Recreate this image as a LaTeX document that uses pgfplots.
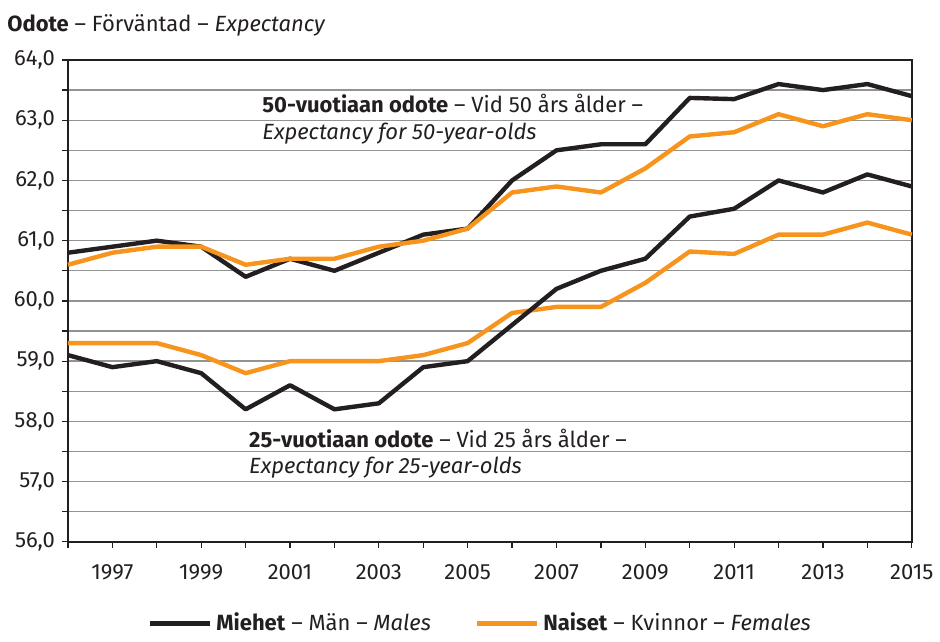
\documentclass[border=0pt]{standalone}
\usepackage{fontspec}
\setmainfont{Fira Sans}
\usepackage{pgfplots}
\pgfplotsset{compat=1.18}
\definecolor{mblack}{HTML}{231F20}
\definecolor{forange}{HTML}{F7941D}
\newcommand\lbl{\fontsize{11}{13}\selectfont}
\begin{document}
\begin{tikzpicture}
\begin{axis}[
  scale only axis,
  width=422pt, height=241pt,
  xmin=1996, xmax=2015, ymin=56, ymax=64,
  xtick={1997,1999,...,2015},
  minor xtick={1996,1998,...,2014},
  ytick={56,57,...,64},
  minor ytick={56.5,57.5,...,63.5},
  ymajorgrids, yminorgrids,
  grid style={gray!85, line width=0.7pt},
  minor grid style={gray!85, line width=0.7pt},
  axis line style={mblack, line width=0.8pt},
  tick style={mblack, line width=0.6pt},
  tick align=outside,
  major tick length=3pt, minor tick length=3pt,
  xtick pos=bottom, ytick pos=left,
  /pgf/number format/assume math mode=true,
  yticklabel style={/pgf/number format/.cd, fixed, fixed zerofill, precision=1, use comma},
  xticklabel style={/pgf/number format/1000 sep=, yshift=-5pt},
  tick label style={font=\lbl, text=mblack},
  legend style={at={(0.49,-0.13)}, anchor=north, draw=none, legend columns=2,
    font=\lbl, text=mblack,
    /tikz/every even column/.append style={column sep=20pt}},
  legend image code/.code={\draw[#1] (0pt,0pt) -- (30pt,0pt);},
  every axis plot/.append style={line width=2.2pt, line join=round},
  clip=false,
]
\addplot[forange, forget plot] coordinates {(1996,59.3) (1997,59.3) (1998,59.3) (1999,59.1) (2000,58.8) (2001,59.0) (2002,59.0) (2003,59.0) (2004,59.1) (2005,59.3) (2006,59.8) (2007,59.9) (2008,59.9) (2009,60.3) (2010,60.82) (2011,60.78) (2012,61.1) (2013,61.1) (2014,61.3) (2015,61.1)};
\addplot[mblack, forget plot] coordinates {(1996,59.1) (1997,58.9) (1998,59.0) (1999,58.8) (2000,58.2) (2001,58.6) (2002,58.2) (2003,58.3) (2004,58.9) (2005,59.0) (2006,59.6) (2007,60.2) (2008,60.5) (2009,60.7) (2010,61.4) (2011,61.53) (2012,62.0) (2013,61.8) (2014,62.1) (2015,61.9)};
\addplot[mblack] coordinates {(1996,60.8) (1997,60.9) (1998,61.0) (1999,60.9) (2000,60.4) (2001,60.7) (2002,60.5) (2003,60.8) (2004,61.1) (2005,61.2) (2006,62.0) (2007,62.5) (2008,62.6) (2009,62.6) (2010,63.37) (2011,63.35) (2012,63.6) (2013,63.5) (2014,63.6) (2015,63.4)};
\addlegendentry{\textbf{Miehet} – Män – \textit{Males}}
\addplot[forange] coordinates {(1996,60.6) (1997,60.8) (1998,60.9) (1999,60.9) (2000,60.6) (2001,60.7) (2002,60.7) (2003,60.9) (2004,61.0) (2005,61.2) (2006,61.8) (2007,61.9) (2008,61.8) (2009,62.2) (2010,62.73) (2011,62.8) (2012,63.1) (2013,62.9) (2014,63.1) (2015,63.0)};
\addlegendentry{\textbf{Naiset} – Kvinnor – \textit{Females}}
\node[anchor=west, inner sep=0pt, text=mblack, font=\lbl] at (axis cs:2000.37,63.27) {\textbf{50-vuotiaan odote} – Vid 50 års ålder –};
\node[anchor=west, inner sep=0pt, text=mblack, font=\lbl] at (axis cs:2000.37,62.77) {\textit{Expectancy for 50-year-olds}};
\node[anchor=west, inner sep=0pt, text=mblack, font=\lbl] at (axis cs:2000.07,57.71) {\textbf{25-vuotiaan odote} – Vid 25 års ålder –};
\node[anchor=west, inner sep=0pt, text=mblack, font=\lbl] at (axis cs:2000.07,57.23) {\textit{Expectancy for 25-year-olds}};
\node[anchor=base west, inner sep=0pt, text=mblack, font=\lbl] at ([xshift=-30.5pt, yshift=14pt]rel axis cs:0,1) {\textbf{Odote} – Förväntad – \textit{Expectancy}};
\path ([xshift=-34pt, yshift=30pt]rel axis cs:0,1) -- ([xshift=10pt]rel axis cs:1,1);
\end{axis}
\end{tikzpicture}
\end{document}
